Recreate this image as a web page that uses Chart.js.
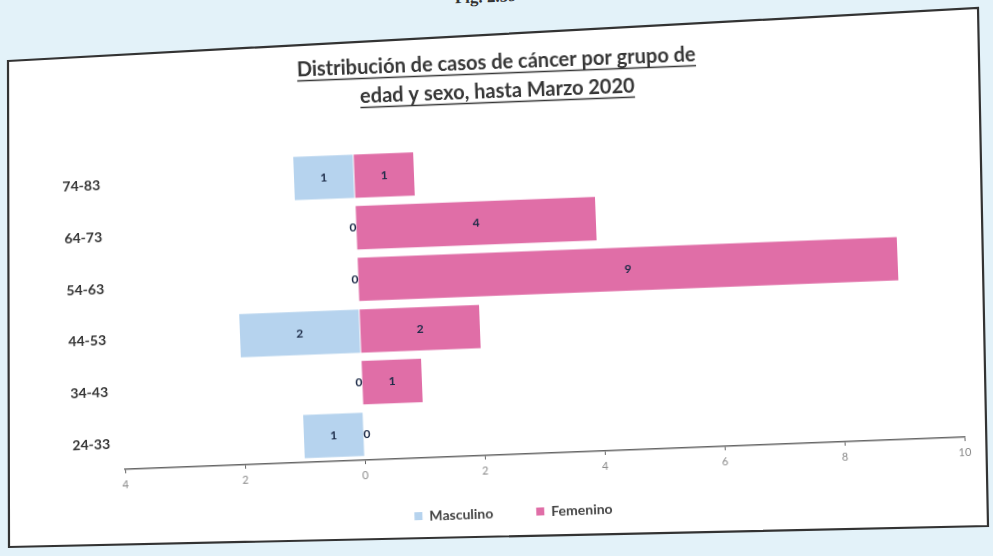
<!DOCTYPE html>
<html>
<head>
<meta charset="utf-8">
<script src="https://cdn.jsdelivr.net/npm/chart.js@4.4.1/dist/chart.umd.min.js"></script>
<style>
  html, body { margin: 0; padding: 0; width: 993px; height: 556px; overflow: hidden; background: #e3f2f9; }
  #marco { position: absolute; left: 0; top: 0; }
  #page { position: absolute; left: 0; top: 0; width: 993px; height: 556px; transform: rotate(-2.2deg); transform-origin: 496px 278px; }
  #fig { position: absolute; left: 0; width: 993px; top: -13px; text-align: center; font: bold 17px "Liberation Serif", serif; color: #333; }
  #chart { position: absolute; left: 0; top: 0; }
</style>
</head>
<body>
<svg id="marco" width="993" height="556">
  <polygon points="8,61 978,8 988,526 9,547" fill="#fff" stroke="#333" stroke-width="2.2"/>
</svg>
<div id="page">
  <div id="fig">Fig. 2.59</div>
  <canvas id="chart" width="993" height="556"></canvas>
</div>
<script>
var grupos = ['24-33', '34-43', '44-53', '54-63', '64-73', '74-83'];
var masculino = [1, 0, 2, 0, 0, 1];
var femenino = [0, 1, 2, 9, 4, 1];
var titulo = ['Distribución de casos de cáncer por grupo de', 'edad y sexo, hasta Marzo 2020'];

var fuente = 'Lato, "Open Sans", sans-serif';

// subrayado del titulo
var subrayado = {
    id: 'subrayado',
    afterDraw: function (chart) {
        var tb = chart.titleBlock;
        if (!tb) return;
        var f = Chart.helpers.toFont(tb.options.font);
        var ctx = chart.ctx;
        var cx = (tb.left + tb.right) / 2;
        ctx.save();
        ctx.font = f.string;
        ctx.strokeStyle = tb.options.color;
        ctx.lineWidth = 1.5;
        titulo.forEach(function (linea, i) {
            var y = tb.top + tb._padding.top + f.lineHeight / 2 + i * f.lineHeight + f.size * 0.55;
            var w = ctx.measureText(linea).width;
            ctx.beginPath();
            ctx.moveTo(cx - w / 2, y);
            ctx.lineTo(cx + w / 2, y);
            ctx.stroke();
        });
        ctx.restore();
    }
};

// valores dentro de cada barra
var etiquetas = {
    id: 'etiquetas',
    afterDatasetsDraw: function (chart) {
        var ctx = chart.ctx;
        ctx.save();
        ctx.font = 'bold 12px ' + fuente;
        ctx.fillStyle = '#1c2b48';
        ctx.textAlign = 'center';
        ctx.textBaseline = 'middle';
        chart.data.datasets.forEach(function (ds, i) {
            chart.getDatasetMeta(i).data.forEach(function (bar, j) {
                var v = Math.abs(ds.data[j]);
                var x = (bar.x + bar.base) / 2;
                if (v === 0) x += (i === 0 ? -3 : 3);
                ctx.fillText(String(v), x, bar.y);
            });
        });
        ctx.restore();
    }
};

var ctx = document.getElementById('chart');
var myChart = new Chart(ctx, {
    type: 'bar',
    data: {
        labels: grupos,
        datasets: [{
            label: 'Masculino',
            data: masculino.map(function (v) { return -v; }),
            backgroundColor: 'rgb(182, 211, 238)',
            borderWidth: 0,
            grouped: false
        }, {
            label: 'Femenino',
            data: femenino,
            backgroundColor: 'rgb(224, 110, 167)',
            borderWidth: 0,
            grouped: false
        }]
    },
    options: {
        indexAxis: 'y',
        responsive: false,
        animation: false,
        categoryPercentage: 0.84,
        barPercentage: 1,
        layout: { padding: { left: 51, right: 35, top: 0, bottom: 26 } },
        scales: {
            x: {
                min: -4,
                max: 10,
                ticks: {
                    stepSize: 2,
                    color: '#8a8a8a',
                    font: { family: fuente, size: 11 },
                    padding: 5,
                    callback: function (v) { return Math.abs(v); }
                },
                grid: { drawOnChartArea: false, tickLength: 4, color: '#666' },
                border: { color: '#666', width: 1.5 },
                afterFit: function (scale) { scale.height = 29; }
            },
            y: {
                reverse: true,
                ticks: {
                    color: '#333',
                    font: { family: fuente, size: 14, weight: 'bold' },
                    padding: 14
                },
                grid: { display: false, drawTicks: false },
                border: { display: false },
                afterFit: function (scale) { scale.width = 67; }
            }
        },
        plugins: {
            title: {
                display: true,
                text: titulo,
                color: '#363636',
                font: { family: fuente, size: 20, weight: 'bold', lineHeight: 1.45 },
                padding: { top: 48, bottom: 39 }
            },
            legend: {
                position: 'bottom',
                labels: {
                    boxWidth: 8,
                    boxHeight: 8,
                    padding: 22,
                    color: '#444',
                    font: { family: fuente, size: 14, weight: 'bold' },
                    generateLabels: function (chart) {
                        var items = Chart.defaults.plugins.legend.labels.generateLabels(chart);
                        // separacion entre los dos rotulos
                        items[0].text += '\u2003\u2003';
                        return items;
                    }
                }
            },
            tooltip: { enabled: false }
        }
    },
    plugins: [subrayado, etiquetas]
});
</script>
</body>
</html>
